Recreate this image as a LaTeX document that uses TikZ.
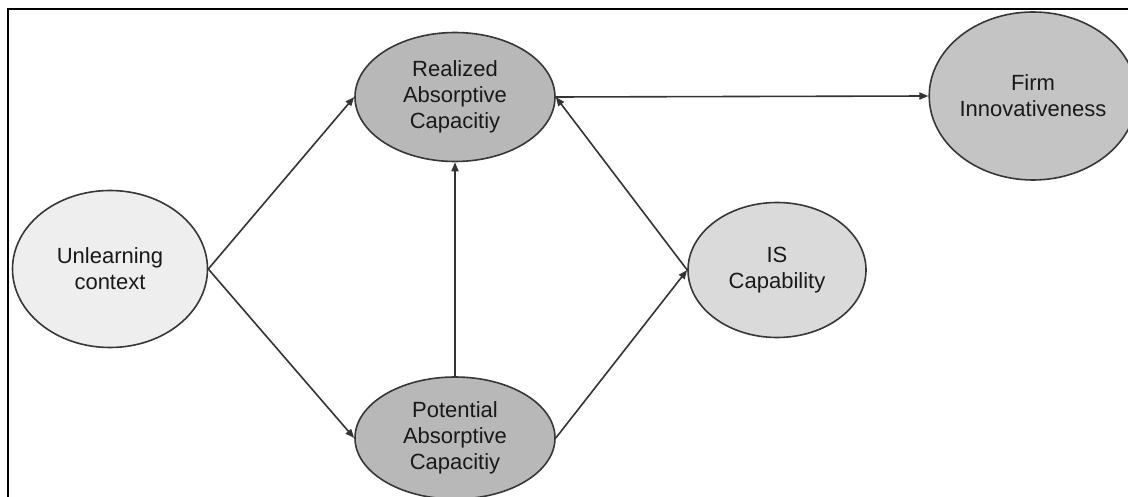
\documentclass[tikz,border=0pt]{standalone}
\usepackage{fontspec}
\setmainfont{Liberation Sans}
\usetikzlibrary{shapes.geometric,arrows.meta}
\definecolor{darkfill}{RGB}{184,184,184}
\definecolor{firmfill}{RGB}{196,196,196}
\definecolor{isfill}{RGB}{218,218,218}
\definecolor{unfill}{RGB}{238,238,238}
\definecolor{edgegray}{RGB}{55,55,55}
\tikzset{
  construct/.style={ellipse, draw=edgegray, line width=1.6pt, inner sep=0pt, align=center,
    font=\fontsize{22}{26}\selectfont, text=black!90},
  link/.style={line width=1.6pt, draw=black!80, -{Triangle[length=9pt,width=7pt]}}
}
\begin{document}
\begin{tikzpicture}[x=1pt,y=-1pt]
\useasboundingbox (0,0) rectangle (1128,497);
\clip (0,0) rectangle (1128,497);
\fill[white] (0,0) rectangle (1128,497);
\coordinate (bl) at (8,497);
\coordinate (tl) at (8,9);
\coordinate (tr) at (1128,9);
\draw[line width=2pt, black] (bl) -- (tl) -- (tr);

\node[construct, fill=darkfill, minimum width=200pt, minimum height=129pt] (real) at (455,97) {Realized\\Absorptive\\Capacitiy};
\node[construct, fill=darkfill, minimum width=200pt, minimum height=122pt] (pot) at (455,438) {Potential\\Absorptive\\Capacitiy};
\node[construct, fill=unfill, minimum width=195pt, minimum height=157pt] (unl) at (110,269) {Unlearning\\context};
\node[construct, fill=isfill, minimum width=178pt, minimum height=135pt] (is) at (777,270) {IS\\Capability};
\node[construct, fill=firmfill, minimum width=189pt, minimum height=168pt] (firm) at (1033,96) {Firm\\Innovativeness};

\draw[link] (unl.east) -- (real.west);
\draw[link] (unl.east) -- (pot.west);
\draw[link] (pot.north) -- (real.south);
\draw[link] (pot.east) -- (is.west);
\draw[link] (is.west) -- (real.east);
\draw[link] (real.east) -- (firm.west);
\end{tikzpicture}
\end{document}
